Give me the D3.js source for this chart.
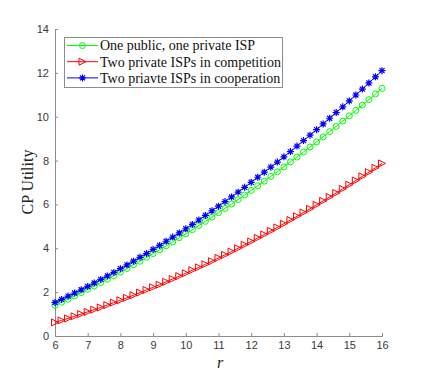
<!DOCTYPE html>
<html><head><meta charset="utf-8">
<script src="https://cdn.jsdelivr.net/npm/d3@7/dist/d3.min.js"></script>
<style>body{margin:0;background:#fff;}svg{display:block;}</style>
</head><body><svg id="c" width="423" height="378"></svg>
<script>
const rValues = [6,6.2,6.4,6.6,6.8,7,7.2,7.4,7.6,7.8,8,8.2,8.4,8.6,8.8,9,9.2,9.4,9.6,9.8,10,10.2,10.4,10.6,10.8,11,11.2,11.4,11.6,11.8,12,12.2,12.4,12.6,12.8,13,13.2,13.4,13.6,13.8,14,14.2,14.4,14.6,14.8,15,15.2,15.4,15.6,15.8,16];
const publicPrivate = [1.40,1.54,1.68,1.83,1.98,2.13,2.28,2.44,2.59,2.75,2.91,3.08,3.25,3.41,3.59,3.76,3.93,4.11,4.29,4.48,4.66,4.85,5.04,5.23,5.42,5.62,5.82,6.02,6.22,6.43,6.64,6.85,7.06,7.28,7.49,7.71,7.94,8.16,8.39,8.62,8.85,9.08,9.32,9.56,9.80,10.04,10.29,10.53,10.78,11.04,11.29];
const privateCompetition = [0.62,0.71,0.80,0.90,1.00,1.10,1.20,1.30,1.41,1.52,1.63,1.74,1.86,1.98,2.10,2.22,2.34,2.47,2.60,2.73,2.86,3.00,3.13,3.27,3.41,3.56,3.70,3.85,4.00,4.16,4.31,4.47,4.63,4.79,4.95,5.12,5.29,5.46,5.63,5.80,5.98,6.16,6.34,6.52,6.71,6.90,7.09,7.28,7.47,7.67,7.87];
const privateCooperation = [1.53,1.67,1.82,1.96,2.11,2.26,2.42,2.58,2.74,2.90,3.07,3.24,3.41,3.59,3.76,3.95,4.13,4.32,4.51,4.70,4.89,5.09,5.29,5.50,5.71,5.92,6.13,6.34,6.56,6.78,7.01,7.24,7.47,7.70,7.93,8.17,8.41,8.66,8.91,9.16,9.41,9.67,9.93,10.19,10.45,10.72,10.99,11.26,11.54,11.82,12.10];
const xTicks = [6,7,8,9,10,11,12,13,14,15,16];
const yTicks = [0,2,4,6,8,10,12,14];
const seriesNames = ["One public, one private ISP","Two private ISPs in competition","Two priavte ISPs in cooperation"];
const seriesColors = ["#00ff00","#ff0000","#0000ff"];
const seriesMarkers = ["circle","triangle","star"];
const seriesData = [publicPrivate, privateCompetition, privateCooperation];

const svg = d3.select("#c");
const x = d3.scaleLinear().domain([6,16]).range([55,382]);
const y = d3.scaleLinear().domain([0,14]).range([336,29]);

const axisColor = "#8c8c8c", textColor = "#3a3a3a";
const gx = svg.append("g").attr("transform","translate(0,336)")
  .call(d3.axisBottom(x).tickValues(xTicks).tickSize(-3).tickPadding(5).tickFormat(d3.format("d")));
const gy = svg.append("g").attr("transform","translate(55,0)")
  .call(d3.axisLeft(y).tickValues(yTicks).tickSize(-3).tickPadding(6).tickFormat(d3.format("d")));
[gx,gy].forEach(g=>{
  g.select(".domain").attr("stroke",axisColor).attr("stroke-width",1);
  g.selectAll(".tick line").attr("stroke",axisColor);
  g.selectAll(".tick text").attr("fill",textColor).attr("font-family","Arial, 'Liberation Sans', sans-serif").attr("font-size",11);
});
gx.selectAll(".tick text").attr("y",5).attr("dy","0.71em");

function drawMarker(g, type, cx, cy, color){
  if(type==="circle"){
    g.append("circle").attr("cx",cx).attr("cy",cy).attr("r",3).attr("fill","none").attr("stroke",color).attr("stroke-width",1);
  } else if(type==="triangle"){
    const s=3.5;
    g.append("path").attr("d",`M${cx+s},${cy} L${cx-s},${cy-s} L${cx-s},${cy+s} Z`).attr("fill","none").attr("stroke",color).attr("stroke-width",1);
  } else {
    const s=3.5, d=s*0.72;
    g.append("path").attr("d",`M${cx-s},${cy}L${cx+s},${cy}M${cx},${cy-s}L${cx},${cy+s}M${cx-d},${cy-d}L${cx+d},${cy+d}M${cx-d},${cy+d}L${cx+d},${cy-d}`)
      .attr("stroke",color).attr("stroke-width",1.2).attr("fill","none");
  }
}

const line = d3.line().x((d,i)=>x(rValues[i])).y(d=>y(d));
const drawOrder=[1,0,2];
drawOrder.forEach(k=>{
  const g = svg.append("g");
  g.append("path").datum(seriesData[k]).attr("d",line).attr("fill","none").attr("stroke",seriesColors[k]).attr("stroke-width",1);
  seriesData[k].forEach((v,i)=>drawMarker(g, seriesMarkers[k], x(rValues[i]), y(v), seriesColors[k]));
});

// axis labels
svg.append("text").attr("x",220).attr("y",368).attr("text-anchor","middle")
  .attr("font-family","'Liberation Serif','Times New Roman',serif").attr("font-style","italic").attr("font-size",16).attr("fill","#222").text("r");
svg.append("text").attr("transform","translate(33,182) rotate(-90)").attr("text-anchor","middle")
  .attr("font-family","'Liberation Serif','Times New Roman',serif").attr("font-size",16).attr("fill","#222").text("CP Utility");

// legend
const lg = svg.append("g");
lg.append("rect").attr("x",64.5).attr("y",37.5).attr("width",218).attr("height",50).attr("fill","#fff").attr("stroke","#8c8c8c").attr("stroke-width",1);
seriesNames.forEach((name,k)=>{
  const yy = 45.5 + k*16.2;
  lg.append("line").attr("x1",67).attr("x2",98).attr("y1",yy).attr("y2",yy).attr("stroke",seriesColors[k]).attr("stroke-width",1);
  drawMarker(lg, seriesMarkers[k], 82.5, yy, seriesColors[k]);
  lg.append("text").attr("x",100).attr("y",yy).attr("dy","0.35em")
    .attr("font-family","'Liberation Serif','Times New Roman',serif").attr("font-size",14).attr("fill","#111").text(name);
});
</script></body></html>
